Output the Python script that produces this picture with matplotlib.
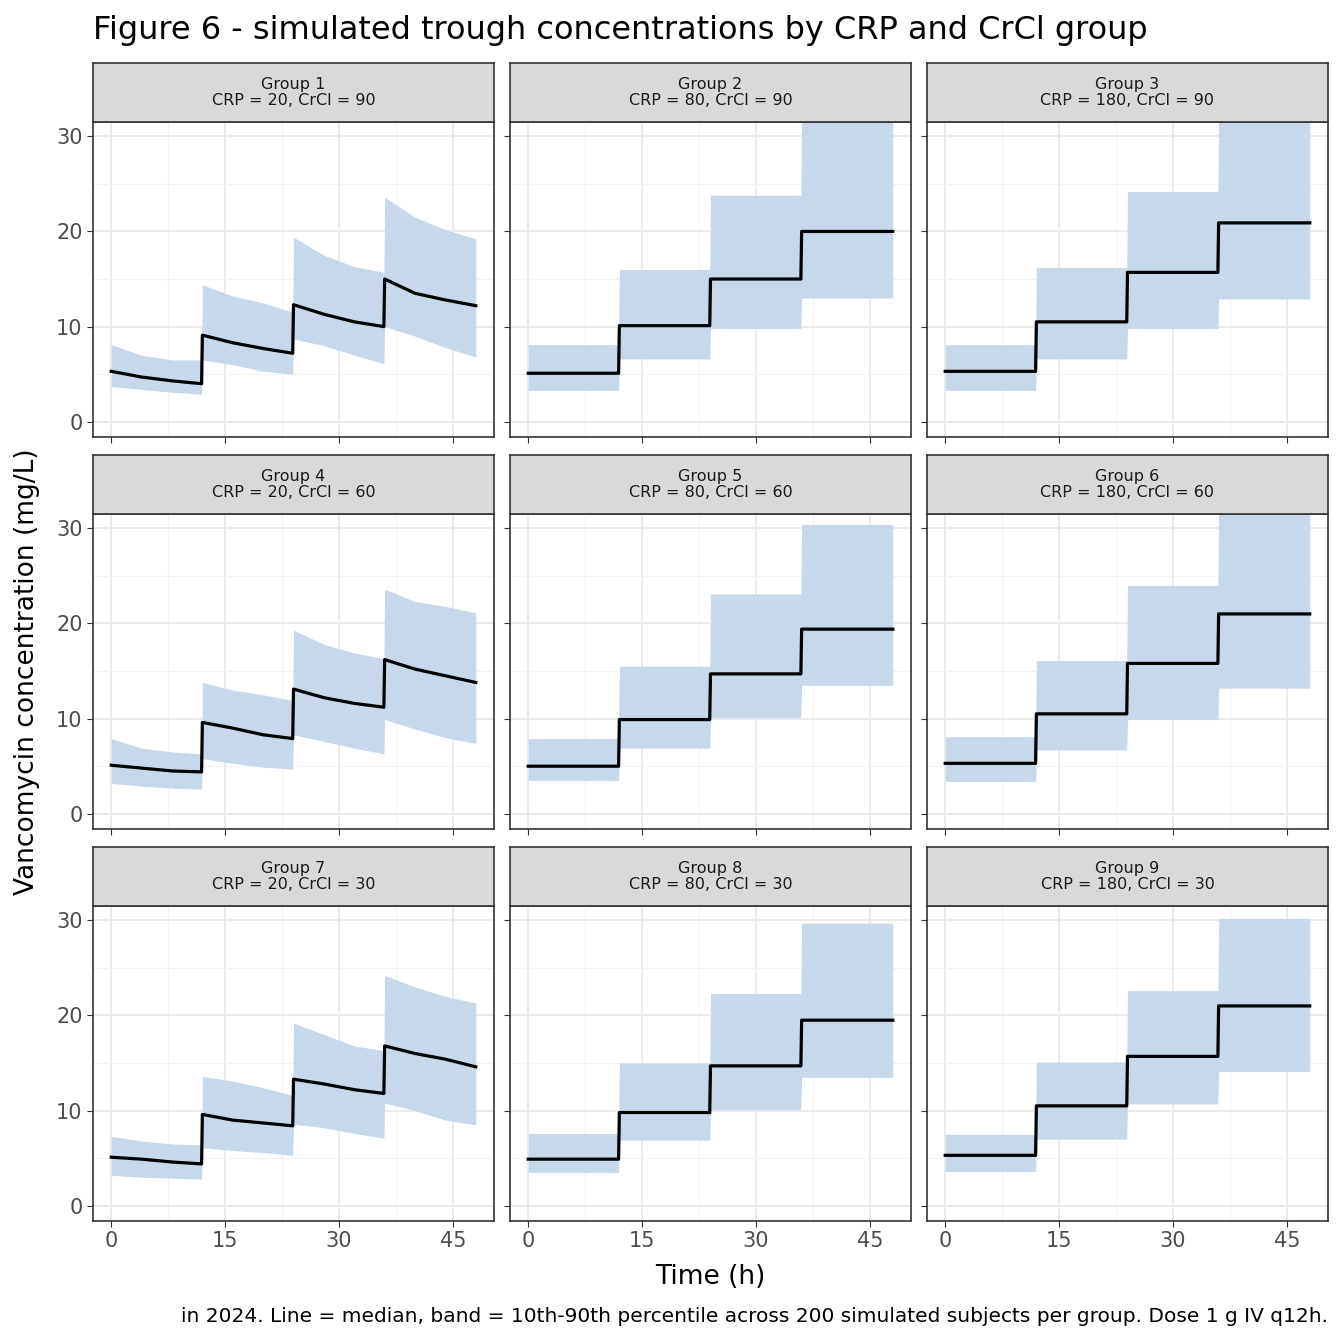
import matplotlib.pyplot as plt
import numpy as np

knots = [0,4,8,11.9, 12,16,20,23.9, 24,28,32,35.9, 36,40,44,48]
decay = {
 1: dict(med=[5.3,4.7,4.3,4.0, 9.1,8.3,7.7,7.2, 12.3,11.3,10.5,10.0, 15.0,13.5,12.8,12.2],
         lo=[3.7,3.4,3.1,2.9, 6.5,6.0,5.3,5.0, 8.7,8.0,7.0,6.1, 10.0,9.0,7.8,6.8],
         hi=[8.1,7.0,6.5,6.5, 14.4,13.2,12.5,11.5, 19.4,17.5,16.3,15.7, 23.6,21.5,20.2,19.2]),
 4: dict(med=[5.1,4.8,4.5,4.4, 9.6,9.0,8.3,7.9, 13.1,12.2,11.6,11.2, 16.2,15.2,14.5,13.8],
         lo=[3.2,2.9,2.7,2.6, 5.8,5.3,4.9,4.7, 8.3,7.6,6.9,6.3, 9.9,8.9,8.0,7.4],
         hi=[7.9,6.9,6.5,6.3, 13.8,13.0,12.5,11.9, 19.3,17.8,16.9,16.3, 23.6,22.3,21.8,21.1]),
 7: dict(med=[5.1,4.9,4.6,4.4, 9.6,9.0,8.7,8.4, 13.3,12.8,12.2,11.8, 16.8,16.0,15.4,14.6],
         lo=[3.2,3.0,2.9,2.8, 6.1,5.8,5.6,5.3, 8.6,8.2,7.6,7.1, 10.8,10.0,9.0,8.5],
         hi=[7.3,6.8,6.5,6.4, 13.6,13.1,12.4,11.6, 19.2,18.0,16.8,16.3, 24.2,23.0,22.0,21.3]),
}
step = {
 2: dict(med=[5.1,10.1,15.0,20.0], lo=[3.3,6.6,9.8,13.0], hi=[8.1,16.0,23.8,31.5]),
 3: dict(med=[5.3,10.5,15.7,20.9], lo=[3.3,6.6,9.8,12.9], hi=[8.1,16.2,24.2,33.0]),
 5: dict(med=[5.0,9.9,14.7,19.4], lo=[3.5,6.9,10.1,13.5], hi=[7.9,15.5,23.1,30.4]),
 6: dict(med=[5.3,10.5,15.8,21.0], lo=[3.4,6.7,9.9,13.2], hi=[8.1,16.1,24.0,33.0]),
 8: dict(med=[4.9,9.8,14.7,19.5], lo=[3.5,6.9,10.1,13.5], hi=[7.6,15.0,22.3,29.7]),
 9: dict(med=[5.3,10.5,15.7,21.0], lo=[3.6,7.0,10.7,14.1], hi=[7.5,15.1,22.6,30.2]),
}
crp = [20, 80, 180]
crcl = [90, 60, 30]

W = 1344
fig = plt.figure(figsize=(13.44, 13.44), dpi=100)
lefts = [93, 510, 927]; pw = 401
tops = [63, 455, 847]; sh = 59; ph = 315
band_c = '#c6d8e9'
for r in range(3):
    for c in range(3):
        g = r*3 + c + 1
        x0 = lefts[c]; y0 = tops[r]
        ax = fig.add_axes([x0/W, 1-(y0+sh+ph)/W, pw/W, ph/W])
        sax = fig.add_axes([x0/W, 1-(y0+sh)/W, pw/W, sh/W])
        sax.set_facecolor('#d9d9d9'); sax.set_xticks([]); sax.set_yticks([])
        for s in sax.spines.values(): s.set_color('#333333'); s.set_linewidth(1.2)
        sax.text(0.5, 0.5, f"Group {g}\nCRP = {crp[c]}, CrCl = {crcl[r]}", ha='center', va='center',
                 fontsize=11.5, color='#1a1a1a', linespacing=1.1, transform=sax.transAxes)
        if g in decay:
            d = decay[g]; med, lo, hi = d['med'], d['lo'], d['hi']
        else:
            d = step[g]
            med = [v for v in d['med'] for _ in range(4)]
            lo = [v for v in d['lo'] for _ in range(4)]
            hi = [v for v in d['hi'] for _ in range(4)]
        ax.fill_between(knots, lo, hi, color=band_c, lw=0, zorder=2)
        ax.plot(knots, med, color='black', lw=2.3, zorder=3)
        ax.set_xlim(-2.4, 50.4); ax.set_ylim(-1.6, 31.5)
        ax.set_xticks([0,15,30,45]); ax.set_yticks([0,10,20,30])
        ax.set_xticks([7.5,22.5,37.5], minor=True); ax.set_yticks([5,15,25], minor=True)
        ax.grid(True, which='major', color='#ebebeb', lw=1.4, zorder=0)
        ax.grid(True, which='minor', color='#f2f2f2', lw=0.8, zorder=0)
        ax.set_axisbelow(True)
        for s in ax.spines.values(): s.set_color('#333333'); s.set_linewidth(1.2)
        ax.tick_params(which='minor', length=0)
        ax.tick_params(which='major', color='#333333', length=4, labelsize=15, labelcolor='#4d4d4d')
        if c != 0: ax.set_yticklabels([])
        if r != 2: ax.set_xticklabels([])

fig.text(93/W, 1-30/W, "Figure 6 - simulated trough concentrations by CRP and CrCl group",
         fontsize=23, va='center', ha='left')
fig.text(710/W, 1-1277/W, "Time (h)", fontsize=19, ha='center', va='center')
fig.text(27/W, 1-672/W, "Vancomycin concentration (mg/L)", fontsize=19, rotation=90, ha='center', va='center')
fig.text(1328/W, 1-1316/W, "in 2024. Line = median, band = 10th-90th percentile across 200 simulated subjects per group. Dose 1 g IV q12h.",
         fontsize=14.5, ha='right', va='center')
fig.savefig('out.png', dpi=100)
